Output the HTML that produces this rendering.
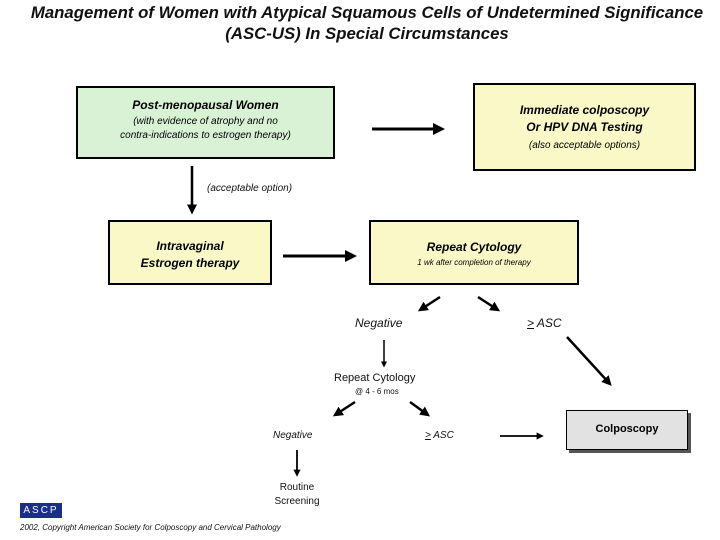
<!DOCTYPE html>
<html><head><style>
body{margin:0;width:720px;height:540px;background:#fff;position:relative;font-family:"Liberation Sans",sans-serif;overflow:hidden}
.t{position:absolute;white-space:nowrap;color:#111}
.box{position:absolute;border:2px solid #000;box-sizing:border-box;text-align:center;font-style:italic}
</style></head><body>
<div class="t" style="left:7px;width:720px;text-align:center;top:2px;font-size:16.8px;font-weight:bold;font-style:italic;line-height:21px;letter-spacing:0px">Management of Women with Atypical Squamous Cells of Undetermined Significance<br>(ASC-US) In Special Circumstances</div>

<div class="box" style="left:76px;top:86px;width:259px;height:73px;background:#d9f2d6;padding-top:10px">
<div style="font-weight:bold;font-size:12px">Post-menopausal Women</div>
<div style="font-size:10px;line-height:14px;margin-top:3px">(with evidence of atrophy and no<br>contra-indications to estrogen therapy)</div></div>

<div class="box" style="left:473px;top:83px;width:223px;height:88px;background:#fbf8c8;padding-top:17px">
<div style="font-weight:bold;font-size:12px;line-height:17px">Immediate colposcopy<br>Or HPV DNA Testing</div>
<div style="font-size:10px;margin-top:4px">(also acceptable options)</div></div>

<div class="box" style="left:108px;top:220px;width:164px;height:65px;background:#fbf8c8;padding-top:16px">
<div style="font-weight:bold;font-size:12px;line-height:17px">Intravaginal<br>Estrogen therapy</div></div>

<div class="box" style="left:369px;top:220px;width:210px;height:65px;background:#fbf8c8;padding-top:18px">
<div style="font-weight:bold;font-size:12px">Repeat Cytology</div>
<div style="font-size:8px;margin-top:4px">1 wk after completion of therapy</div></div>

<div style="position:absolute;left:569px;top:413px;width:122px;height:40px;background:#555"></div>
<div class="box" style="left:566px;top:410px;width:122px;height:40px;background:#e2e2e2;border-width:1px;font-style:normal;font-weight:bold;font-size:11px;padding-top:12px">Colposcopy</div>

<svg width="720" height="540" style="position:absolute;left:0;top:0">
<defs><marker id="a" markerWidth="4" markerHeight="4" refX="3" refY="2" orient="auto"><path d="M0,0L4,2L0,4z" fill="#000"/></marker></defs>
<g stroke="#000" fill="none" marker-end="url(#a)">
<line x1="372" y1="129" x2="442" y2="129" stroke-width="3"/>
<line x1="192" y1="166" x2="192" y2="212" stroke-width="2.5"/>
<line x1="283" y1="256" x2="354" y2="256" stroke-width="3"/>
<line x1="440" y1="297" x2="420" y2="310" stroke-width="2.5"/>
<line x1="478" y1="297" x2="498" y2="310" stroke-width="2.5"/>
<line x1="567" y1="337" x2="610" y2="384" stroke-width="2.5"/>
<line x1="384" y1="340" x2="384" y2="366" stroke-width="1.5"/>
<line x1="355" y1="402" x2="335" y2="415" stroke-width="2.5"/>
<line x1="410" y1="402" x2="428" y2="415" stroke-width="2.5"/>
<line x1="500" y1="436" x2="542" y2="436" stroke-width="1.8"/>
<line x1="297" y1="450" x2="297" y2="475" stroke-width="1.8"/>
</g></svg>

<div class="t" style="left:207px;top:183px;font-size:10px;font-style:italic">(acceptable option)</div>
<div class="t" style="left:355px;top:316px;font-size:12px;font-style:italic">Negative</div>
<div class="t" style="left:527px;top:316px;font-size:12px;font-style:italic"><u>&gt;</u> ASC</div>
<div class="t" style="left:334px;top:372px;font-size:11px">Repeat Cytology</div>
<div class="t" style="left:355px;top:387px;font-size:8px">@ 4 - 6 mos</div>
<div class="t" style="left:273px;top:430px;font-size:10px;font-style:italic">Negative</div>
<div class="t" style="left:425px;top:430px;font-size:10px;font-style:italic"><u>&gt;</u> ASC</div>
<div class="t" style="left:262px;top:481px;width:70px;text-align:center;font-size:10px;line-height:14px">Routine<br>Screening</div>
<div style="position:absolute;left:20px;top:503px;width:42px;height:15px;background:#1a2f8c;color:#fff;font-size:10px;letter-spacing:2px;text-align:center;line-height:15px">ASCP</div>
<div class="t" style="left:20px;top:523px;font-size:8px;font-style:italic">2002, Copyright American Society for Colposcopy and Cervical Pathology</div>
</body></html>
